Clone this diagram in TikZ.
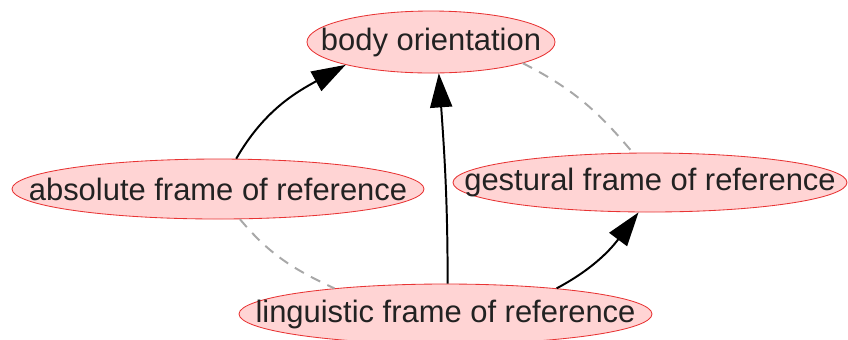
\documentclass[tikz,border=0pt]{standalone}
\usepackage{fontspec}
\setmainfont{Liberation Sans}
\usepackage{tikz}
\usetikzlibrary{shapes.geometric, arrows.meta, positioning}
\definecolor{nodefill}{RGB}{255,212,212}
\definecolor{nodeline}{RGB}{232,52,52}
\definecolor{textgray}{RGB}{34,34,34}
\definecolor{dashgray}{RGB}{168,168,168}
\newcommand{\ctext}[1]{\makebox[0pt]{#1}}

\begin{document}
\begin{tikzpicture}[
  ell/.style={ellipse, draw=nodeline, line width=0.6pt, fill=nodefill, text=textgray, minimum height=1.5cm, inner sep=0pt, font=\fontsize{22}{26}\selectfont},
  arr/.style={-{Triangle[length=0.85cm, width=0.55cm]}, line width=1.4pt, black},
  link/.style={dashgray, line width=1.4pt, dash pattern=on 0.26cm off 0.2cm}
]
\useasboundingbox (0,0) rectangle (21.2,-8.475);

% Frames
\node[ell, minimum width=6.2cm, minimum height=1.55cm] (body) at (10.775,-1.05) {\ctext{body orientation}};
\node[ell, minimum width=10.3cm] (absolute) at (5.45,-4.725) {\ctext{absolute frame of reference}};
\node[ell, minimum width=9.85cm, minimum height=1.475cm] (gestural) at (16.25,-4.5625) {\ctext{gestural frame of reference}};
\node[ell, minimum width=10.325cm] (linguistic) at (11.1375,-7.85) {\ctext{linguistic frame of reference}};

% Arrows
\draw[arr] (absolute.59) to[out=60, in=209] (body.195);
\draw[arr] (linguistic.86) to[out=90, in=-86] (body.284);
\draw[arr] (linguistic.13) to[out=28, in=233] (gestural.249);

% Dashed links
\draw[link] (body.-13) to[out=-27, in=130] (gestural.120);
\draw[link] (absolute.-54) to[out=-50, in=155] (linguistic.167);
\end{tikzpicture}
\end{document}
